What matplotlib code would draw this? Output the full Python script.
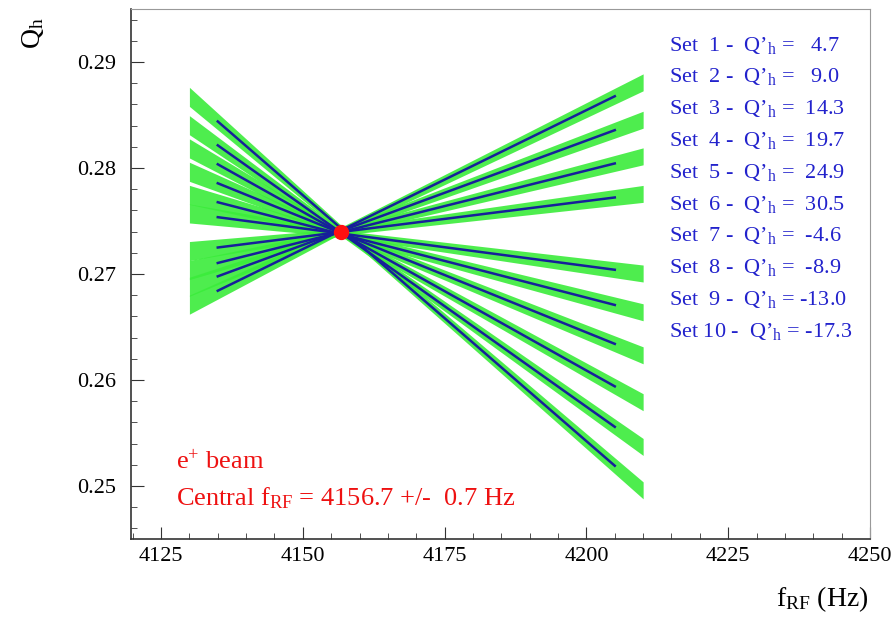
import numpy as np
import matplotlib
matplotlib.use('Agg')
import matplotlib.pyplot as plt
from matplotlib.ticker import MultipleLocator

plt.rcParams['font.family'] = ['Liberation Serif', 'DejaVu Serif']
plt.rcParams['mathtext.fontset'] = 'custom'
plt.rcParams['mathtext.rm'] = 'Liberation Serif'
plt.rcParams['mathtext.it'] = 'Liberation Serif:italic'

# chromaticity values per set
sets = [1, 2, 3, 4, 5, 6, 7, 8, 9, 10]
q_prime = [4.7, 9.0, 14.3, 19.7, 24.9, 30.5, -4.6, -8.9, -13.0, -17.3]

# fitted lines, read at both ends (f = 4135 Hz and f = 4205 Hz)
fit_f = [4135, 4205]
fit_q_left = [0.27536, 0.27677, 0.27856, 0.28035, 0.28214, 0.28439,
              0.27250, 0.27104, 0.26978, 0.26842]
fit_q_right = [0.27040, 0.26708, 0.26341, 0.25940, 0.25558, 0.25191,
               0.27722, 0.28043, 0.28357, 0.28677]

# measured points: spread of the cloud around each line
cloud_f = [4130, 4156.7, 4210]
cloud_halfwidth = [0.0009, 0.0003, 0.0008]

central_f = 4156.7
central_q = 0.274

fig = plt.figure(figsize=(8.94, 6.18), dpi=100)
ax = fig.add_axes([131 / 894, 1 - 539 / 618, (870 - 131) / 894, (539 - 9) / 618])

green = '#3bec3b'
for ql, qr in zip(fit_q_left, fit_q_right):
    slope = (qr - ql) / (fit_f[1] - fit_f[0])
    f = np.linspace(cloud_f[0], cloud_f[-1], 200)
    q = ql + slope * (f - fit_f[0])
    hw = np.interp(f, cloud_f, cloud_halfwidth)
    ax.fill_between(f, q - hw, q + hw, color=green, lw=0, alpha=0.9, zorder=1)

for ql, qr in zip(fit_q_left, fit_q_right):
    ax.plot(fit_f, [ql, qr], color='#16209a', lw=1.8, zorder=2)

ax.plot([central_f], [central_q], 'o', color='#ff1010', ms=10, zorder=3)

ax.set_xlim(4119.7, 4250)
ax.set_ylim(0.245, 0.295)
ax.xaxis.set_major_locator(MultipleLocator(25))
ax.xaxis.set_minor_locator(MultipleLocator(5))
ax.yaxis.set_major_locator(MultipleLocator(0.01))
ax.yaxis.set_minor_locator(MultipleLocator(0.002))
ax.yaxis.set_major_formatter(plt.FuncFormatter(lambda v, p: f'{v:.2f}'))
ax.tick_params(which='both', direction='in', top=False, right=False,
               labelsize=16, color='#333333')
ax.tick_params(which='major', length=9)
ax.tick_params(which='minor', length=4.5)
ax.tick_params(axis='y', pad=11)
ax.tick_params(axis='x', pad=6)
for s in ['top', 'right']:
    ax.spines[s].set_color('#999999')
for s in ['left', 'bottom']:
    ax.spines[s].set_color('#333333')
    ax.spines[s].set_linewidth(1.2)

# legend text
for i, (s, v) in enumerate(zip(sets, q_prime)):
    num = f'{v:.1f}'
    txt = f'Set {s:2d} -  Q\u2019$_{{\\rm h}}$ = {num:>5}'
    fig.text(669 / 894, 1 - (45 + 31.8 * i) / 618, txt, color='#2222cc',
             fontsize=16, ha='left', va='center')

fig.text(176 / 894, 1 - 462 / 618, r'e$^{+}$ beam', color='#ee1111',
         fontsize=19, ha='left', va='center')
fig.text(176 / 894, 1 - 498 / 618,
         r'Central f$_{\rm RF}$ = 4156.7 +/-  0.7 Hz', color='#ee1111',
         fontsize=19, ha='left', va='center')

fig.text(33 / 894, 1 - 33 / 618, r'Q$_{\rm h}$', rotation=90, fontsize=20,
         ha='center', va='center')
fig.text(868 / 894, 1 - 599 / 618, r'f$_{\rm RF}$ (Hz)', fontsize=20,
         ha='right', va='center')

fig.savefig('out.png', dpi=100)
